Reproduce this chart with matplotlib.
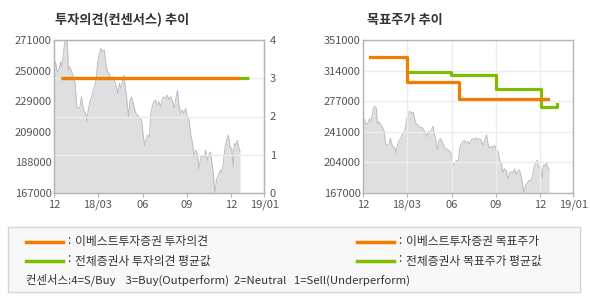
import matplotlib
matplotlib.use("Agg")
import matplotlib.pyplot as plt
from matplotlib.patches import Rectangle
from matplotlib.lines import Line2D

plt.rcParams['font.family'] = ['Noto Sans CJK KR', 'DejaVu Sans']

# ---- data (x = days since 2017-12-01) ----
price_days = [0, 3, 6, 10, 13, 15, 19, 21, 23, 27, 29, 32, 36, 39, 43, 46, 49, 53, 56, 60,
              65, 67, 70, 74, 77, 80, 84, 87, 89, 93, 96, 99, 103, 107, 110, 113, 117, 120, 124, 127,
              131, 134, 137, 141, 144, 146, 149, 153, 156, 159, 163, 166, 170, 173, 177, 180, 183, 186, 189, 192,
              196, 199, 202, 205, 209, 212, 216, 219, 223, 226, 230, 233, 236, 240, 243, 247, 250, 254, 257, 260,
              264, 267, 271, 274, 278, 281, 285, 288, 291, 295, 298, 302, 305, 309, 312, 315, 319, 322, 326, 329,
              331, 335, 338, 342, 345, 348, 352, 355, 359, 362, 366, 369, 371, 375, 377, 381, 383]
prices = [257400, 255100, 249400, 251700, 256200, 252800, 261900, 268700, 271000, 269200,
          250600, 252800, 249400, 246000, 241500, 225600, 224500, 225600, 232400, 223300,
          221000, 215400, 223300, 230100, 232400, 236900, 240300, 246000, 255100, 261900,
          265300, 263100, 264200, 252800, 249400, 248300, 244900, 246000, 243800, 240300,
          234700, 241500, 238100, 243800, 247200, 239200, 232400, 218800, 230100, 232400,
          227900, 223300, 219900, 219900, 217600, 216500, 207400, 199500, 202900, 206300,
          205200, 221000, 225600, 229000, 230100, 226700, 229000, 225600, 231300, 232400,
          231300, 233500, 230600, 232400, 230100, 224500, 230100, 236900, 226700, 221000,
          223300, 221000, 224500, 218800, 216500, 207400, 200600, 191500, 196100, 193800,
          183600, 191500, 192700, 191500, 196100, 189300, 193800, 194900, 185800, 175600,
          167000, 176800, 179000, 182400, 181300, 185800, 198300, 202900, 206300, 198300,
          197200, 184700, 200600, 199500, 202900, 197200, 194900]

# consensus (투자의견)
cons_ebest_days = [13, 381]
cons_ebest = [3, 3]
cons_avg_days = [13, 401]
cons_avg = [3, 3]

# target price (목표주가)
tp_ebest_days = [14, 90, 197, 380]
tp_ebest = [330000, 300000, 280000, 280000]
tp_avg_days = [90, 180, 273, 366, 400]
tp_avg = [313000, 309000, 292000, 270000, 274000]

x_tick_days = [0, 90, 182, 274, 365, 433]
x_tick_labels = ['12', '18/03', '06', '09', '12', '19/01']
left_price_labels = ['167000', '188000', '209000', '229000', '250000', '271000']
right_price_labels = ['167000', '204000', '241000', '277000', '314000', '351000']
cons_ticks = [0, 1, 2, 3, 4]

titles = ['투자의견(컨센서스) 추이', '목표주가 추이']
legend_labels = ['이베스트투자증권 투자의견', '전체증권사 투자의견 평균값',
                 '이베스트투자증권 목표주가', '전체증권사 목표주가 평균값']
consensus_note = '컨센서스:4=S/Buy    3=Buy(Outperform)  2=Neutral   1=Sell(Underperform)'

ORANGE = '#f57a00'
GREEN = '#80bc00'
FILL = '#dfdfdf'
PLINE = '#bdbdbd'
GRID = '#ececec'
SPINE = '#b4b4b4'
TXT = '#555555'

W, H = 590, 300
fig = plt.figure(figsize=(W / 100, H / 100), dpi=100)
fig.patch.set_facecolor('white')


def fx(px):
    return px / W


def fy(py):
    return 1 - py / H


def style_axes(ax):
    for s in ax.spines.values():
        s.set_color(SPINE)
        s.set_linewidth(1.0)
    ax.set_xlim(0, 433)
    ax.set_xticks(x_tick_days)
    ax.set_xticklabels(x_tick_labels)
    ax.tick_params(axis='x', length=3, color=SPINE, pad=2, labelsize=8, labelcolor=TXT)
    ax.tick_params(axis='y', length=0, pad=2, labelsize=8, labelcolor=TXT)


# ---------- left chart ----------
axL = fig.add_axes([fx(54.3), fy(193), fx(210), 153 / H])
pmin, pmax = 167000, 271000
axL.fill_between(price_days, prices, pmin, color=FILL, linewidth=0, zorder=1)
axL.plot(price_days, prices, color=PLINE, linewidth=0.7, zorder=1.2)
axL.set_ylim(pmin, pmax)
step = (pmax - pmin) / (len(left_price_labels) - 1)
axL.set_yticks([pmin + i * step for i in range(len(left_price_labels))])
axL.set_yticklabels(left_price_labels)
style_axes(axL)
axL.grid(False)

axL2 = axL.twinx()
axL2.set_ylim(0, 4)
axL2.set_yticks(cons_ticks)
axL2.set_yticklabels([str(t) for t in cons_ticks])
axL2.set_xlim(0, 433)
for s in axL2.spines.values():
    s.set_color(SPINE)
axL2.tick_params(axis='y', length=0, pad=4, labelsize=8, labelcolor=TXT)
axL2.grid(True, axis='both', color=GRID, linewidth=1.0)
axL2.set_axisbelow(True)
axL2.plot(cons_avg_days, cons_avg, color=GREEN, linewidth=2.3, solid_capstyle='butt', zorder=3)
axL2.plot(cons_ebest_days, cons_ebest, color=ORANGE, linewidth=2.3, solid_capstyle='butt', zorder=4)
axL2.set_xticks(x_tick_days)
axL2.tick_params(axis='x', length=0, labelbottom=False)

fig.text(fx(55), fy(20), titles[0], fontsize=9.5, fontweight='bold', color='#333333',
         ha='left', va='center')

# ---------- right chart ----------
axR = fig.add_axes([fx(363.3), fy(193), fx(210), 153 / H])
rmin, rmax = 167000, 351000
axR.fill_between(price_days, prices, rmin, color=FILL, linewidth=0, zorder=1)
axR.plot(price_days, prices, color=PLINE, linewidth=0.7, zorder=1.2)
axR.set_ylim(rmin, rmax)
rstep = (rmax - rmin) / (len(right_price_labels) - 1)
axR.set_yticks([rmin + i * rstep for i in range(len(right_price_labels))])
axR.set_yticklabels(right_price_labels)
style_axes(axR)
axR.grid(True, axis='both', color=GRID, linewidth=1.0, zorder=1.5)
axR.plot(tp_avg_days, tp_avg, color=GREEN, linewidth=2.3, drawstyle='steps-post', zorder=3)
axR.plot(tp_ebest_days, tp_ebest, color=ORANGE, linewidth=2.3, drawstyle='steps-post', zorder=4)

fig.text(fx(367), fy(20), titles[1], fontsize=9.5, fontweight='bold', color='#333333',
         ha='left', va='center')

# ---------- legend box ----------
fig.add_artist(Rectangle((fx(8), fy(292)), fx(572), 65 / H, transform=fig.transFigure,
                         facecolor='#f8f8f8', edgecolor='#d6d6d6', linewidth=1.0))
items = [(26, 242, ORANGE, legend_labels[0]), (26, 261, GREEN, legend_labels[1]),
         (357, 242, ORANGE, legend_labels[2]), (357, 261, GREEN, legend_labels[3])]
for x0, yy, col, lab in items:
    fig.add_artist(Line2D([fx(x0), fx(x0 + 37)], [fy(yy), fy(yy)], color=col, linewidth=2.5,
                          transform=fig.transFigure))
    fig.text(fx(x0 + 41), fy(yy - 2), ':', fontsize=8.5, color='#333333', ha='left', va='center')
    fig.text(fx(x0 + 49), fy(yy), lab, fontsize=8.5, color='#333333', ha='left', va='center')
fig.text(fx(26), fy(280), consensus_note, fontsize=8.2, color='#333333', ha='left', va='center')

fig.savefig('out.png', dpi=100, facecolor='white')
